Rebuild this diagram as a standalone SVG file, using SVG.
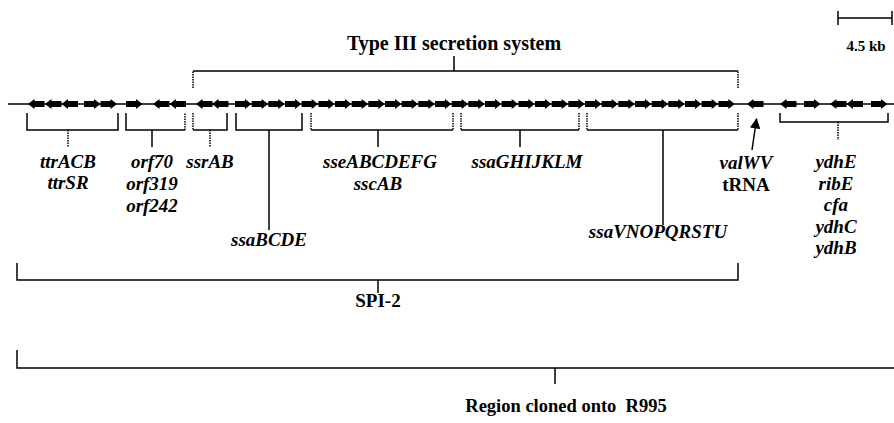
<svg xmlns="http://www.w3.org/2000/svg" xmlns:xlink="http://www.w3.org/1999/xlink" width="894" height="423" viewBox="0 0 894 423">
<style>
.ln{stroke:#000;stroke-width:1.5;fill:none}
.dt{stroke:#000;stroke-width:1.5;fill:none;stroke-dasharray:1.5 1}
.gi{font-family:"Liberation Serif",serif;font-weight:bold;font-style:italic;font-size:19px;text-anchor:middle;fill:#000}
.gb{font-family:"Liberation Serif",serif;font-weight:bold;font-size:19px;text-anchor:middle;fill:#000}
</style>
<defs>
<path id="R" d="M0,-3 H10 V-5 L16.5,0 L10,5 V3 H0 Z" fill="#000"/>
<path id="L" d="M16.5,-3 H6.5 V-5 L0,0 L6.5,5 V3 H16.5 Z" fill="#000"/>
<marker id="ah" viewBox="0 0 10 10" refX="9" refY="5" markerWidth="7" markerHeight="7" orient="auto"><path d="M0,0 L10,5 L0,10 Z" fill="#000"/></marker>
</defs>
<rect width="894" height="423" fill="#fff"/>
<g id="scale">
<path class="ln" d="M838,18 H892 M838,11 V25 M892,11 V25"/>
<text class="gb" x="866" y="51" style="font-size:15px">4.5 kb</text>
</g>
<g id="chromosome">
<line class="ln" x1="8" y1="104" x2="894" y2="104"/>
<g transform="translate(0,104)">
<use xlink:href="#L" x="28"/><use xlink:href="#L" x="45"/><use xlink:href="#L" x="61.5"/>
<use xlink:href="#R" x="84"/><use xlink:href="#R" x="100.5"/>
<use xlink:href="#R" x="126"/>
<use xlink:href="#L" x="153"/><use xlink:href="#L" x="169.5"/>
<use xlink:href="#L" x="196"/><use xlink:href="#L" x="212"/>
<use xlink:href="#R" x="235"/><use xlink:href="#R" x="251.67"/><use xlink:href="#R" x="268.33"/><use xlink:href="#R" x="285"/><use xlink:href="#R" x="301.67"/><use xlink:href="#R" x="318.33"/><use xlink:href="#R" x="335"/><use xlink:href="#R" x="351.67"/><use xlink:href="#R" x="368.33"/><use xlink:href="#R" x="385"/>
<use xlink:href="#R" x="401.67"/><use xlink:href="#R" x="418.33"/><use xlink:href="#R" x="435"/><use xlink:href="#R" x="451.67"/><use xlink:href="#R" x="468.33"/><use xlink:href="#R" x="485"/><use xlink:href="#R" x="501.67"/><use xlink:href="#R" x="518.33"/><use xlink:href="#R" x="535"/><use xlink:href="#R" x="551.67"/>
<use xlink:href="#R" x="568.33"/><use xlink:href="#R" x="585"/><use xlink:href="#R" x="601.67"/><use xlink:href="#R" x="618.33"/><use xlink:href="#R" x="635"/><use xlink:href="#R" x="651.67"/><use xlink:href="#R" x="668.33"/><use xlink:href="#R" x="685"/><use xlink:href="#R" x="701.67"/><use xlink:href="#R" x="718.33"/>
<use xlink:href="#L" x="747"/>
<use xlink:href="#L" x="780"/><use xlink:href="#R" x="804"/><use xlink:href="#L" x="830"/><use xlink:href="#L" x="846.5"/><use xlink:href="#R" x="871"/>
</g>
</g>
<g id="connectors">
<path class="dt" d="M193,88 V71 M738,88 V71"/>
<path class="ln" d="M193,71 H738 M454,71 V56"/>
<path class="ln" d="M27,113 V130 H118 V113"/><path class="dt" d="M68,130 V147"/>
<path class="ln" d="M126,113 V130 H185"/><path class="dt" d="M185,130 V113"/><path class="ln" d="M152,130 V147"/>
<path class="dt" d="M193,113 V130"/><path class="ln" d="M193,130 H227 V113"/><path class="dt" d="M210,130 V147"/>
<path class="ln" d="M236,113 V130 H302 V113 M269,130 V230"/>
<path class="dt" d="M311,113 V130 M453,113 V130"/><path class="ln" d="M311,130 H453 M378,130 V147"/>
<path class="dt" d="M461,113 V130 M579,113 V130"/><path class="ln" d="M461,130 H579 M520,130 V147"/>
<path class="dt" d="M587,113 V130 M738,113 V130"/><path class="ln" d="M587,130 H738 M663,130 V225"/>
<path class="ln" d="M780,113 V122 H888 V113"/><path class="dt" d="M838,122 V140"/>
<line class="ln" x1="752" y1="150" x2="756.5" y2="119" marker-end="url(#ah)"/>
<path class="ln" d="M17,263 V280 H738 V263 M378,280 V293"/>
<path class="ln" d="M17,350 V368 H894 M555,368 V384"/>
</g>
<g id="labels">
<text class="gb" x="454" y="50" style="font-size:20px">Type III secretion system</text>
<text class="gi" x="68" y="168">ttrACB</text><text class="gi" x="68" y="189">ttrSR</text>
<text class="gi" x="152" y="168">orf70</text><text class="gi" x="152" y="190">orf319</text><text class="gi" x="152" y="212">orf242</text>
<text class="gi" x="210" y="168">ssrAB</text>
<text class="gi" x="269" y="246">ssaBCDE</text>
<text class="gi" x="380" y="168">sseABCDEFG</text><text class="gi" x="378" y="190">sscAB</text>
<text class="gi" x="527" y="168">ssaGHIJKLM</text>
<text class="gi" x="658" y="238">ssaVNOPQRSTU</text>
<text class="gi" x="746" y="169">valWV</text><text class="gb" x="746" y="191">tRNA</text>
<text class="gi" x="836" y="168">ydhE</text><text class="gi" x="836" y="190">ribE</text><text class="gi" x="836" y="211">cfa</text><text class="gi" x="836" y="233">ydhC</text><text class="gi" x="836" y="254">ydhB</text>
<text class="gb" x="378" y="307">SPI-2</text>
<text class="gb" x="566" y="412" style="font-size:18.5px">Region cloned onto&#160; R995</text>
</g>
</svg>
